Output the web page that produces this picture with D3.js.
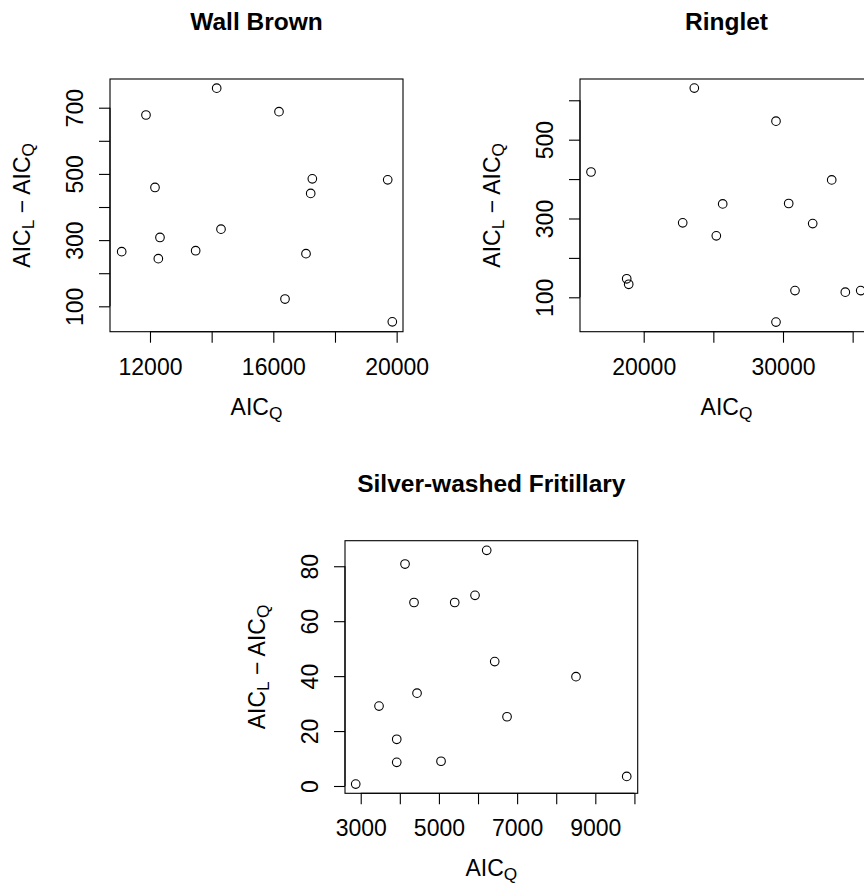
<!DOCTYPE html>
<html>
<head>
<meta charset="utf-8">
<script src="https://cdn.jsdelivr.net/npm/d3@7"></script>
<style>
  html, body { margin: 0; padding: 0; background: #fff; }
  svg { display: block; }
  text { font-family: "Liberation Sans", Arial, Helvetica, sans-serif; fill: #000; }
</style>
</head>
<body>
<svg id="chart" width="864" height="884"></svg>
<script>
// ---------- DATA ----------
const titles = ["Wall Brown", "Ringlet", "Silver-washed Fritillary"];

const wallBrownAICQ = [11082, 11870, 12162, 12324, 12270, 13481, 14163, 14303, 16184, 16379, 17060, 17212, 17265, 19710, 19859];
const wallBrownDiff = [265, 678, 459, 308, 244, 268, 759, 333, 688, 122, 259, 441, 485, 482, 53];

const ringletAICQ = [16217, 18780, 18923, 22800, 23633, 25212, 25671, 29497, 29497, 30409, 30861, 32132, 33496, 34473, 35578];
const ringletDiff = [418, 147, 133, 289, 631, 256, 337, 547, 37, 338, 117, 287, 398, 113, 117];

const fritAICQ = [2872, 3468, 3921, 3921, 4133, 4363, 4440, 5054, 5404, 5923, 6222, 6427, 6742, 8506, 9803];
const fritDiff = [0.7, 29.1, 17.0, 8.6, 80.8, 66.8, 33.8, 9.0, 66.8, 69.4, 85.8, 45.3, 25.2, 39.8, 3.5];

// axis limits
const xLimits = [[10703, 20206], [15427, 36461], [2598, 10084]];
const yLimits = [[23.3, 786.7], [12.7, 654], [-2.66, 89.3]];

// ticks and which of them carry labels
const xTicks = [[12000, 14000, 16000, 18000, 20000], [20000, 25000, 30000, 35000], [3000, 4000, 5000, 6000, 7000, 8000, 9000, 10000]];
const xTickLabels = [[12000, 16000, 20000], [20000, 30000], [3000, 5000, 7000, 9000]];
const yTicks = [[100, 200, 300, 400, 500, 600, 700], [100, 200, 300, 400, 500, 600], [0, 20, 40, 60, 80]];
const yTickLabels = [[100, 300, 500, 700], [100, 300, 500], [0, 20, 40, 60, 80]];

// ---------- LAYOUT ----------
const boxes = [
  {x0: 110, x1: 403, y0: 79, y1: 331.7},
  {x0: 580, x1: 873, y0: 79, y1: 331.7},
  {x0: 345, x1: 637.7, y0: 540.7, y1: 793.3}
];
const panels = [
  {title: titles[0], xs: wallBrownAICQ, ys: wallBrownDiff},
  {title: titles[1], xs: ringletAICQ, ys: ringletDiff},
  {title: titles[2], xs: fritAICQ, ys: fritDiff}
];

const FS = 23;       // axis font size
const TFS = 24.5;    // title font size
const TICK = 11;

const svg = d3.select("#chart");

panels.forEach((p, i) => {
  const b = boxes[i];
  const x = d3.scaleLinear().domain(xLimits[i]).range([b.x0, b.x1]);
  const y = d3.scaleLinear().domain(yLimits[i]).range([b.y1, b.y0]);
  const g = svg.append("g");

  // box
  g.append("rect")
    .attr("x", b.x0).attr("y", b.y0)
    .attr("width", b.x1 - b.x0).attr("height", b.y1 - b.y0)
    .attr("fill", "none").attr("stroke", "#000").attr("stroke-width", 1.1);

  // x axis
  const xAxis = d3.axisBottom(x).tickValues(xTicks[i]).tickSizeInner(TICK).tickSizeOuter(0)
    .tickPadding(0).tickFormat(d => xTickLabels[i].includes(d) ? String(d) : "");
  const gx = g.append("g").attr("transform", `translate(0,${b.y1})`).call(xAxis);
  gx.select(".domain").attr("d", `M${x(xTicks[i][0])},0H${x(xTicks[i][xTicks[i].length - 1])}`)
    .attr("stroke", "#000").attr("stroke-width", 1.1);
  gx.selectAll(".tick line").attr("stroke", "#000").attr("stroke-width", 1.1);
  gx.selectAll(".tick text").attr("y", 43).attr("dy", null)
    .style("font-size", FS + "px").attr("fill", "#000");

  // y axis
  const yAxis = d3.axisLeft(y).tickValues(yTicks[i]).tickSizeInner(TICK).tickSizeOuter(0)
    .tickPadding(0).tickFormat(d => yTickLabels[i].includes(d) ? String(d) : "");
  const gy = g.append("g").attr("transform", `translate(${b.x0},0)`).call(yAxis);
  gy.select(".domain").attr("d", `M0,${y(yTicks[i][0])}V${y(yTicks[i][yTicks[i].length - 1])}`)
    .attr("stroke", "#000").attr("stroke-width", 1.1);
  gy.selectAll(".tick line").attr("stroke", "#000").attr("stroke-width", 1.1);
  gy.selectAll(".tick text")
    .attr("x", null).attr("dy", null)
    .attr("text-anchor", "middle")
    .attr("transform", "translate(-27,0) rotate(-90)")
    .style("font-size", FS + "px").attr("fill", "#000");
  g.selectAll(".tick text").attr("font-family", null);
  gx.attr("font-family", null); gy.attr("font-family", null);

  // points
  g.append("g").selectAll("circle")
    .data(p.xs.map((v, k) => [v, p.ys[k]]))
    .join("circle")
    .attr("cx", d => x(d[0])).attr("cy", d => y(d[1]))
    .attr("r", 4.3)
    .attr("fill", "none").attr("stroke", "#000").attr("stroke-width", 1.1);

  const cx = (b.x0 + b.x1) / 2, cy = (b.y0 + b.y1) / 2;

  // title
  g.append("text").attr("x", cx).attr("y", b.y0 - 49)
    .attr("text-anchor", "middle").style("font-size", TFS + "px").style("font-weight", "bold")
    .text(p.title);

  // x label: AIC_Q
  const xl = g.append("text").attr("x", cx).attr("y", b.y1 + 83)
    .attr("text-anchor", "middle").style("font-size", FS + "px");
  xl.append("tspan").text("AIC");
  xl.append("tspan").attr("dy", 4).style("font-size", (FS * 0.75) + "px").text("Q");

  // y label: AIC_L − AIC_Q
  const yl = g.append("text")
    .attr("transform", `translate(${b.x0 - 80},${cy}) rotate(-90)`)
    .attr("text-anchor", "middle").style("font-size", FS + "px");
  yl.append("tspan").text("AIC");
  yl.append("tspan").attr("dy", 4).style("font-size", (FS * 0.75) + "px").text("L");
  yl.append("tspan").attr("dy", -4).text(" \u2212 AIC");
  yl.append("tspan").attr("dy", 4).style("font-size", (FS * 0.75) + "px").text("Q");
});
</script>
</body>
</html>
